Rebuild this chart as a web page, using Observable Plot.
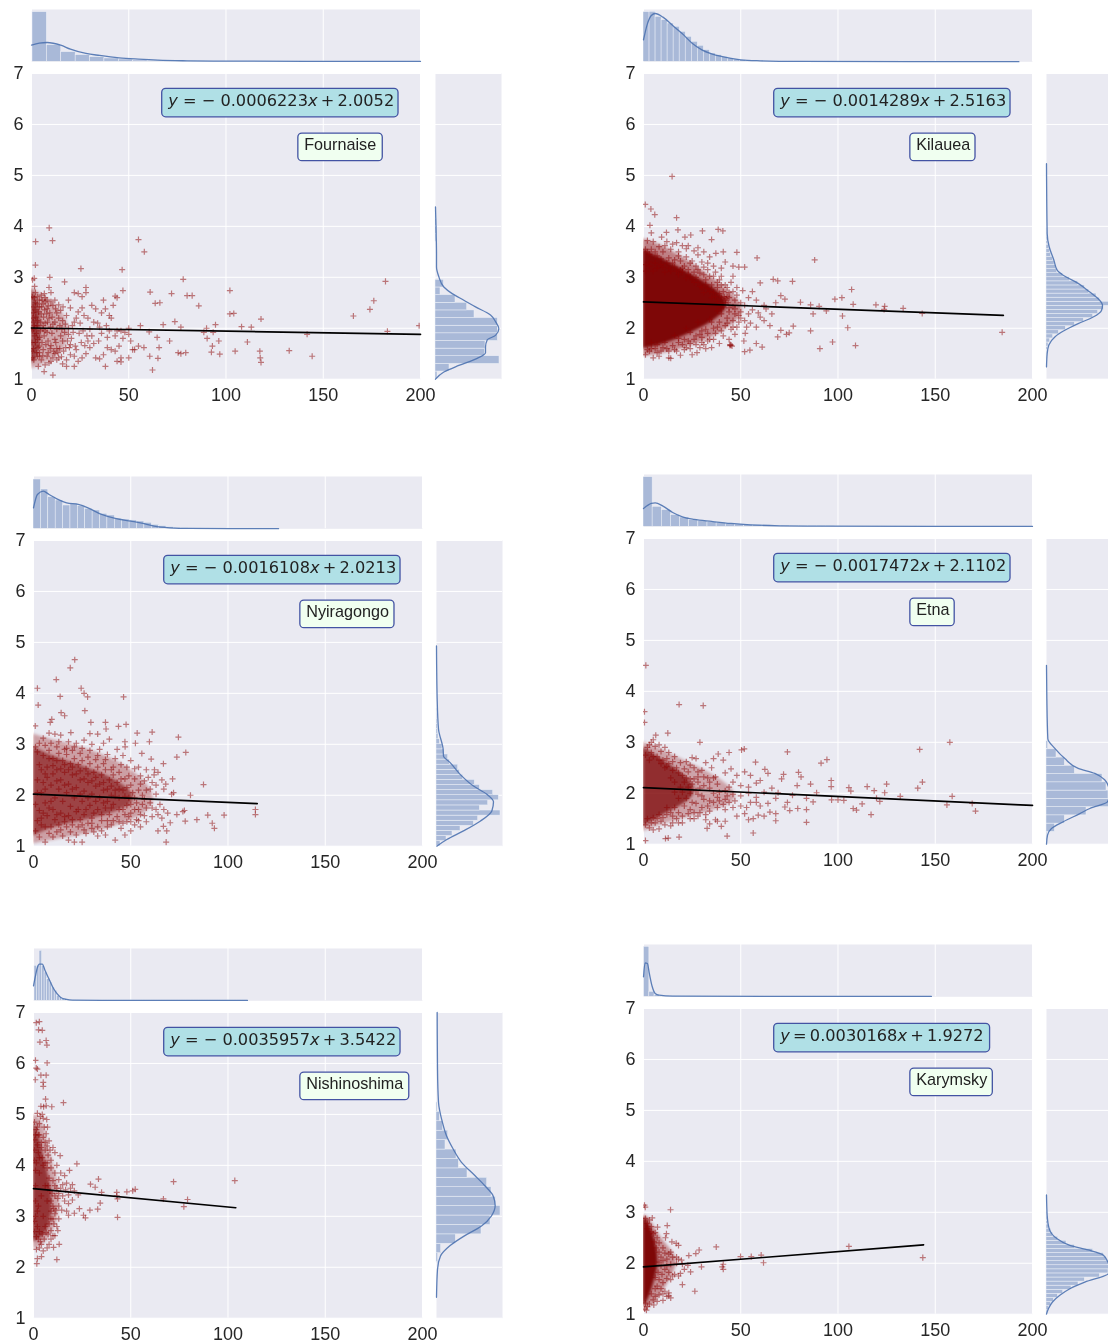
<!DOCTYPE html>
<html><head><meta charset="utf-8">
<script src="https://cdn.jsdelivr.net/npm/d3@7"></script>
<script src="https://cdn.jsdelivr.net/npm/@observablehq/plot@0.6"></script>
<style>
html,body{margin:0;padding:0;background:#fff;overflow:hidden}
#root{position:relative;width:1108px;height:1343px;overflow:hidden;background:#fff;filter:blur(.35px)}
</style></head><body><div id="root"></div>
<script>
const volcanoes=["Fournaise","Kilauea","Nyiragongo","Etna","Nishinoshima","Karymsky"];
const equations=["y\u00A0=\u00A0\u2212\u00A00.0006223x\u2009+\u20092.0052","y\u00A0=\u00A0\u2212\u00A00.0014289x\u2009+\u20092.5163","y\u00A0=\u00A0\u2212\u00A00.0016108x\u2009+\u20092.0213","y\u00A0=\u00A0\u2212\u00A00.0017472x\u2009+\u20092.1102","y\u00A0=\u00A0\u2212\u00A00.0035957x\u2009+\u20093.5422","y\u2009=\u20090.0030168x\u2009+\u20091.9272"];
const fitLines=[[[0,2.0052],[200,1.881]],[[0,2.5163],[185,2.252]],[[0,2.0213],[115,1.836]],[[0,2.1102],[200,1.761]],[[0,3.5422],[104,3.168]],[[0,1.9272],[144,2.362]]];
const eqBoxRight=[188.7,188.7,188.7,188.7,188.7,178.2];
const nameBoxRight=[180.6,170.7,185.6,160,193.2,179.6];
const xTicks=[0,50,100,150,200];
const yTicks=[1,2,3,4,5,6,7];
const coreOpacity=[.6,.95,.58,.72,.68,.95];
const haloOpacity=[.28,.45,.32,.3,.3,.4];

const fournaisePoints=[[9.1,3.97],[10.8,3.72],[2.1,3.7],[55,3.74],[58,3.5],[2,3.24],[25.4,3.17],[46.6,3.15],[1.4,2.98],[9.4,3],[17,2.91],[78,2.96],[182,2.92],[28,2.8],[47,2.74],[61,2.71],[72,2.68],[102,2.74],[80,2.64],[82.6,2.64],[43,2.63],[86,2.44],[63.6,2.49],[66,2.5],[176,2.54],[174,2.37],[165.5,2.24],[102,2.28],[104,2.29],[118,2.18],[73.7,2.13],[67.7,2.07],[56,2.05],[94.6,2.07],[108,2.03],[113,2.02],[76.8,2.02],[90,2],[199.3,2.05],[183,1.94],[141.7,1.88],[93.4,1.92],[88.6,1.92],[90.3,1.8],[96.3,1.75],[111,1.73],[93,1.65],[71,1.75],[92.5,1.53],[96.8,1.49],[104.7,1.55],[117.4,1.55],[132.5,1.56],[117.6,1.42],[118,1.33],[144.3,1.45],[76.8,1.5],[79.3,1.52],[75.4,1.52],[62.2,1.18],[65,1.41],[64.6,1.82],[65.6,1.62],[60.8,1.45],[60.5,1.93],[57.8,1.62],
[.5,2.95],[2,2.7],[3,2.62],[5,2.65],[7,2.6],[9,2.8],[10,2.7],[12,2.55],[2,2.5],[4,2.42],[6,2.48],[8,2.38],[10,2.52],[11,2.45],[13,2.3],[15,2.35],[14,2.2],[16,2.15],[18,2.25],[20,2.4],[22,2.7],[24,2.68],[26,2.62],[28,2.7],[26,2.4],[24,2.32],[23,2.2],[25,2.1],[21,2.05],[19,2],[17,1.92],[15,1.85],[13,1.98],[11,2.08],[9,2.2],[7,2.1],[5,2.28],[3,2.15],[1,2.3],[1.5,2.05],[2.5,1.9],[4.5,1.95],[6.5,1.85],[8.5,1.75],[10.5,1.9],[12.5,1.72],[14.5,1.6],[16.5,1.55],[18.5,1.75],[20.5,1.8],[22.5,1.65],[24.5,1.9],[26.5,1.95],[28.5,1.85],[30,1.98],[32,2.12],[34,2.1],[33,2.38],[31,2.45],[36,2.3],[37,2.55],[38,2.38],[40,2.25],[41,2.2],[42,2.45],[44,2.6],[38.5,2.05],[40,1.95],[36,1.9],[34.5,1.75],[32,1.7],[30,1.62],[28,1.5],[26,1.42],[24,1.35],[22,1.45],[20,1.48],[18,1.38],[16,1.3],[14,1.42],[12,1.5],[10,1.35],[8,1.45],[6,1.58],[4,1.65],[2,1.72],[1,1.6],[3,1.45],[5,1.38],[7,1.28],[3.5,1.25],[6.5,1.15],[11,1.08],[22,1.25],[18,1.25],[38,1.25],[33,1.42],[35,1.4],[37,1.48],[39,1.62],[41,1.58],[43,1.85],[44,1.95],[46,1.95],[48,1.92],[50,1.88],[47,1.8],[45,1.65],[43,1.55],[46,1.42],[44,1.35],[46,1.34],[50,1.42],[52,1.58],[53,1.58],[55,1.65],[51,1.75],[50,2],
[.6,1.42],[1.2,1.38],[2.6,1.52],[3.4,1.62],[1.7,1.85],[.4,1.95],[3.2,1.78],[4.2,1.82],[5.4,1.72],[6,1.98],[7.4,1.68],[8,1.92],[9.6,1.6],[.9,2.12],[2.2,2.22],[3.6,2.32],[4.8,2.12],[6.2,2.22],[7.8,2.28],[8.6,2.44],[.8,2.42],[1.8,2.36],[3,2.48],[5.4,2.55],[6.8,2.36],[10,1.66],[11.4,1.55],[13,1.6],[15.4,1.44],[17.6,1.62],[19.5,1.62],[21.4,1.92],[23,1.58],[25.6,1.72],[27.4,1.66],[29,2.2],[31,1.85],[35,2.02],[39,1.82],[12,2.12],[14.6,2.05],[16.2,2.42],[19,2.55],[9.8,2.02],[7,2.52],[4,2.55],[1.4,2.6],[.3,1.72],[.5,1.55],[.7,2.2],[1.1,1.98],[2.9,2.05],[4.1,1.52],
[4,1.45],[5.8,1.46],[8.6,1.52],[11,1.42],[12,1.78],[13.6,1.52],[6,2.05],[7,1.95],[8.2,2.12],[9.4,2.3],[10.6,2.22],[12.4,2.38],[14,2.46],[15.6,1.98],[17.4,2.08],[19,1.88],[22,2.12],[27,2.25],[29,1.75],[20,1.68],[16,1.75],[13,1.38],[9,1.32],[5.2,2.42],[6.6,2.68],[8,2.55],[1.6,2.82],[.4,2.62]];

const kilaueaPoints=[[14.7,4.98],[.9,4.43],[3.8,4.34],[5.8,4.23],[17,4.17],[3.3,4.02],[17.7,3.93],[38.4,3.94],[40.8,3.91],[30.3,3.91],[11.8,3.88],[4,3.87],[88,3.34],[58.4,3.38],[48,3.49],[41,3.5],[37.2,3.47],[35,3.74],[24.3,3.83],[21.3,3.79],[9.3,3.79],[66.7,2.96],[69,2.93],[76.6,2.92],[107,2.76],[60,2.89],[102,2.6],[98.4,2.57],[70.6,2.64],[72.7,2.57],[80.7,2.51],[85.9,2.46],[90.3,2.43],[107.8,2.47],[119.5,2.46],[124,2.43],[133.5,2.39],[123.7,2.37],[143.3,2.29],[94,2.34],[87.2,2.28],[102.3,2.24],[105,2.01],[85.9,1.95],[184.4,1.92],[97.2,1.73],[109,1.66],[90.7,1.6],[73.5,1.88],[69,1.83],[70.6,1.96],[74.9,1.91],[77,2.04],[52.3,1.9],[51.6,1.75],[54.7,1.57],[52,1.54],[58,1.7],[61,1.63],[45,1.67],[68,2.5],[63,2.38],[66,2.28],[60,2.22],[56,2.36],[58,2.55],[54,2.6],[56,2.72],[51,2.74],[48,2.8],[46,3.02],[52,3.2],[49,3.2],[46,3.22],[42,3.3],[40,3.18],[36,3.22],[34,3.4],[31,3.5],[28,3.44],[26,3.52],[22,3.56],[20,3.62],[18,3.5],[15,3.65],[12,3.7],[8,3.6],[5,3.7],[2,3.72],[1,3.55],[3,3.45],[7,3.42],[10,3.5],[13,3.38],[16,3.34],[19,3.32],[22,3.4],[24,3.28],[27,3.22],[30,3.3],[33,3.15],[36,3.02],[39,2.95],[42,2.85],[45,2.9],[48,2.65],[50,2.5],[52,2.45],[47,2.55],[44,2.6],[41,2.72],[38,2.8],[35,2.85],[32,2.95],[29,3.08],[26,3.1],[23,3.15],[20,3.18],[43,2.2],[46,2.15],[49,2.25],[52,2.15],[55,2.1],[58,2.02],[62,2.15],[65,2.05],[48,2.02],[45,1.98],[42,2.05],[39,2.12],[36,2],[33,1.9],[30,1.95],[27,1.85],[24,1.92],[21,1.78],[18,1.72],[15,1.66],[12,1.6],[9,1.55],[6,1.6],[3,1.55],[1,1.48],[5,1.42],[8,1.45],[13,1.42],[14,1.41],[19,1.47],[21,1.58],[24,1.6],[27,1.68],[27.5,1.52],[30,1.72],[32,1.6],[36,1.78],[39,1.7],[41,1.85],[44,1.78],[47,1.88],[44.5,1.66],[35,1.62],[25,1.48],[17,1.55],[11,1.72],[7,1.68],[4,1.72],[16,1.86],[22,2],[28,2.12],[34,2.18],[40,2.28],[44,2.4],[38,2.52],[42,2.5],[34,2.72],[30,2.8],[26,2.9],[22,2.98],[18,3.05],[14,3.12],[10,3.2],[6,3.28],[3,3.3],[1,3.25],[12,3.28],[16,3.2],[20,3.1],[24,3.02],[28,2.9],[32,2.85],[36,2.7],[40,2.6],[46,2.42],[50,2.32],[54,2.28],[59,2.3],[62,2.45],[49,2.12],[53,2.02],[41,2.42],[43,2.62],[31,3.2],[33,3.28],[25,3.32],[18,3.42],[9,3.36],[6,3.5],[11,3.62],[14,3.55],[17,3.68],[23,3.62],[28,3.58],[2,3.5],[4,3.55],
[42,2.55],[42.5,2.58],[41.5,2.62],[43.5,2.5],[40,2.4],[38,2.34],[44,2.32],[47,2.28],[39,2.68],[37,2.62],[35,2.6],[33,2.78],[31,2.7],[29,2.82],[27,3],[25,2.95],[23,3.05],[21,3.22],[19,3.15],[17,3.12],[15,3.28],[13,3.18],[11,3.1],[9,3.25],[7,3.18],[5,3.12],[3,3.22],[1,3.12],[37,3.1],[38,2.9],[40,3.02],[34,3.02],[31,3.05],[28,3.15],[35,2.12],[38,2.02],[32,1.98],[29,1.88],[26,1.78],[23,1.75],[20,1.68],[16,1.58],[13,1.55],[10,1.62],[7,1.52],[4,1.6],[2,1.58],[18,1.8],[24,1.7],[30,1.82],[34,1.78],[37,1.9],[40,1.95],[43,2.1],[46,2.02],[50,2.2],[47,2.38],[44,2.7],[46,2.72],[43,2.8],[40,2.85],[44.5,1.68],[45.5,1.65],[29,1.62],[31,1.68],[33,1.75],[22,1.62]];

const nyiragongoPoints=[[21.2,4.66],[18.9,4.5],[11.7,4.27],[2,4.1],[24.5,4.1],[26,4],[27.8,3.93],[13.7,3.94],[46.3,3.93],[2.4,3.77],[26.4,3.66],[14.2,3.62],[16,3.56],[9.4,3.49],[8.6,3.43],[37,3.43],[29.5,3.43],[.9,3.36],[43.7,3.35],[47.6,3.39],[37.3,3.3],[19.2,3.23],[29,3.21],[53.3,3.22],[61,3.24],[74.5,3.14],[59.6,3.05],[47,3.05],[47.1,2.95],[52.4,3.02],[78.3,2.84],[73.7,2.75],[55.7,2.82],[60.5,2.71],[66.8,2.62],[87.4,2.21],[71.5,2.32],[62.2,2.5],[80.7,2],[72,2.05],[77.6,1.7],[76.8,1.68],[73.7,1.62],[84,1.52],[89.6,1.61],[98,1.61],[91.9,1.45],[93,1.35],[114.1,1.72],[114.1,1.62],[78,1.49],[70.3,1.46],[66.8,1.39],[68.5,1.3],[64,1.3],[68.2,1.08],
[62,2.4],[64,2.45],[66,2.3],[68,2.22],[67,2.12],[71,2.02],[63,2.02],[60,2.12],[57,2.28],[55,2.38],[52,2.52],[48,2.55],[45,2.6],[42,2.72],[38,2.8],[34,2.9],[30,3],[26,3.08],[22,3.02],[18,3.05],[14,3.18],[11,3.2],[8,3.22],[5,3.12],[3,3.02],[1,2.95],[36,3.02],[33,3.2],[39,3.1],[43,2.9],[46,2.78],[50,2.68],[54,2.55],[58,2.5],[59,2.35],[65,1.82],[67,1.72],[69,1.65],[66,1.55],[63,1.72],[60,1.85],[58,1.75],[55,1.62],[61,1.58],[58,1.48],[55,1.38],[52,1.42],[50,1.3],[47,1.22],[45,1.35],[48,1.48],[42,1.12],[37,1.22],[33,1.2],[30,1.35],[27,1.25],[25,1.08],[21,1.08],[18,1.12],[15,1.2],[12,1.28],[8,1.25],[6,1.08],[3,1.18],[1,1.3],[4,1.42],[9,1.38],[14,1.32],[19,1.28],[23,1.38],[28,1.45],[33,1.38],[38,1.5],[43,1.58],[47,1.62],[52,1.72],[56,2],[54,2.1],[50,2.2],[47,2.32],[44,2.45],[40,2.5],[36,2.62],[32,2.7],[28,2.75],[24,2.82],[20,2.88],[16,2.9],[12,2.95],[8,2.88],[5,2.78],[2,2.85],[10,2.72],[15,2.68],[19,2.62],[23,2.6],[27,2.52],[31,2.45],[35,2.4],[39,2.3],[43,2.25],[46,2.1],[49,1.95],[53,1.85],[56,1.82],[44,1.95],[40,2],[36,2.1],[32,2.18],[28,2.25],[24,2.3],[20,2.4],[16,2.45],[12,2.5],[7,2.55],[3,2.6],[5,2.25],[9,2.2],[13,2.12],[17,2.05],[21,1.95],[25,1.88],[29,1.8],[33,1.72],[37,1.75],[41,1.82],[6,1.85],[10,1.72],[14,1.65],[18,1.6],[22,1.68],[26,1.62],[30,1.55],[3,1.7],[7,1.6],[11,1.52],[16,1.48],[20,1.52],[24,1.52],[35,1.62],[40,1.42],[44,1.48],[49,1.58],[53,1.52],[57,1.6],[61,1.75],[64,1.62],[41,2.4],[37,2.5],[33,2.55],[29,2.62],[25,2.68],[21,2.72],[17,2.8],[13,2.82],[49,2.38],[51,2.05],[58,2.1],[61,2.25],[63,2.2],
[2,2.3],[4,2.05],[7,2.35],[10,2.42],[14,2.3],[18,2.22],[22,2.15],[26,2.08],[30,2.02],[34,1.95],[38,1.88],[42,2.1],[46,1.72],[50,1.65],[54,1.72],[57,1.92],[11,1.95],[15,1.88],[19,1.78],[23,1.72],[27,1.72],[31,1.65],[4,1.55],[8,1.75],[12,1.62],[16,1.58],[20,1.42],[25,1.42],[30,1.45],[35,1.5],[39,1.62],[6,1.38],[10,1.18],[13,1.42],[17,1.38],[22,1.22],[26,1.32],[31,1.28],[35,1.3],[38,1.38],[41,1.5],[46,1.45],[50,1.48],[54,1.5],[2,1.5],[5,1.65],[9,1.88],[1,1.82],[2,2.05],[6,2.12],[12,2.28],[16,2.2],[20,2.12],[24,2.02],[28,1.95],[32,1.88],[36,1.85],[40,1.75],[44,1.72],[48,1.8],[52,1.95],[55,2.22],[52,2.32],[48,2.15],[44,2.12],[40,2.18],[36,2.25],[32,2.35],[28,2.42],[24,2.48],[20,2.55],[16,2.6],[12,2.68],[8,2.72],[4,2.5],[6,2.42],[10,2.58],[14,2.52],[18,2.5],[22,2.42],[26,2.32],[30,2.28],[34,2.22],[38,2.12],[42,1.98],[47,1.98],[50,1.82],[45,2.32],[41,2.55],[37,2.7],[33,2.78],[29,2.88],[25,2.92],[21,2.95],[17,2.92],[13,3.05],[9,3.02],[6,2.98]];

const etnaPoints=[[1.2,4.51],[.5,3.6],[.5,3.39],[18.3,3.74],[30.7,3.72],[157.5,3],[142,2.86],[74,2.81],[94.3,2.66],[91.3,2.59],[29,3],[12.5,3.18],[6.3,3.14],[51.8,2.87],[50.4,2.85],[57.6,2.61],[44,2.8],[38.4,2.77],[79.7,2.41],[81,2.32],[72,2.37],[71,2.28],[62.4,2.47],[64,2.39],[143.4,2.22],[141,2.1],[96.5,2.25],[96.5,2.13],[125,2.18],[115,2.13],[105.6,2.11],[106.6,2.04],[118.6,2.05],[124,2.01],[132,1.94],[158.7,1.94],[156,1.77],[169,1.8],[170.7,1.65],[117,1.58],[112.4,1.79],[107.8,1.7],[109.5,1.67],[121.5,1.84],[119.8,1.9],[96.7,1.87],[100,1.87],[103,1.86],[89,2.01],[85.9,2.18],[79,2.15],[83.8,1.68],[79.3,1.7],[75.2,1.66],[83.8,1.43],[56.4,1.22],[43,1.16],[18.3,1.14],[12.7,1.12],[11.3,1.11],[1,1.07],[32.7,1.31],[68,1.46],[68,1.6],[72.7,1.73],[87.2,1.83],[83.8,1.9],[74,1.82],[76.6,1.96],[69.2,2.01],[65,1.63],[59,1.57],[56.4,1.5],
[5,3.05],[8,2.95],[11,2.9],[13,2.8],[16,2.72],[19,2.6],[22,2.62],[25,2.7],[27,2.68],[32,2.6],[36,2.68],[41,2.65],[35,2.5],[30,2.45],[26,2.5],[23,2.42],[20,2.35],[24,2.28],[28,2.32],[33,2.3],[37,2.32],[42,2.4],[45,2.48],[48,2.35],[52,2.42],[55,2.35],[60,2.25],[58,2.2],[54,2.12],[50,2.15],[46,2.22],[42,2.05],[38,2.18],[34,2.1],[31,2.15],[27,2.05],[24,2],[30,1.95],[34,1.85],[38,1.92],[42,1.88],[46,1.98],[50,1.95],[54,2],[58,1.92],[62,2.02],[66,2.1],[68,1.9],[64,1.8],[60,1.75],[55,1.82],[50,1.75],[46,1.72],[42,1.68],[38,1.72],[34,1.65],[30,1.72],[27,1.8],[24,1.68],[21,1.75],[18,1.62],[15,1.55],[12,1.58],[9,1.45],[6,1.42],[3,1.32],[5,1.28],[8,1.3],[14,1.36],[18,1.42],[20,1.42],[24,1.5],[28,1.55],[32,1.58],[37,1.48],[42,1.45],[48,1.55],[52,1.6],[53,1.72],[54,1.48],[58,1.82],[62,1.55],[40,1.35],[38,1.45],[34,1.4],[26,1.62],[2,2.9],[4,2.8],[7,2.72],[10,2.65],[13,2.58],[15,2.45],[18,2.4],[21,2.22],[23,2.12],[20,2.02],[18,1.9],[16,1.72],[12,1.72],[8,1.58],[5,1.52],[1,1.38],[2,1.5],[3,2.65],[6,2.92],[9,2.58],[11,2.5],[14,2.3],[17,2.5],[26,2.28],[29,2.1],[36,2],[44,2.12],[47,1.85],[1,2.75],[4,3],[3,2.95],
[22,1.9],[25,1.82],[28,1.98],[31,1.88],[33,1.75],[36,1.82],[39,1.85],[41,1.78],[44,1.82],[25,2.18],[28,2.22],[31,2.32],[34,2.22],[36,2.3],[39,2.02],[43,1.95],[20,1.55],[23,1.6],[26,1.5],[29,1.62],[32,1.48],[11,1.38],[15,1.42],[17,1.5],[7,1.5],[4,1.42],[16,2.22],[19,2.12],[22,2.3],[12,2.52],[8,2.65],[5,2.72],[9,2.82],[12,2.68],[15,2.62],[21,2.48],[24,2.55],[28,2.42],[16,2.02],[14,1.62],[10,1.52]];

const nishinoshimaPoints=[[3,6.82],[1.4,6.8],[2.6,6.66],[4.5,6.65],[3.3,6.42],[6.5,6.45],[6.9,6.36],[1,6.06],[7,6.01],[1.4,5.91],[2,5.89],[.9,5.68],[3.8,5.77],[6.5,5.77],[5,5.63],[5,5.55],[6.2,5.3],[15.4,5.23],[3.8,5.16],[6.5,5.17],[9.4,5.15],[5.2,5.15],[103.5,3.7],[72,3.68],[33.4,3.73],[22.3,4.03],[13.7,4.19],[18.5,3.9],[29.3,3.63],[31.7,3.57],[52.3,3.53],[51,3.5],[48,3.48],[42.8,3.47],[42.8,3.4],[43.2,3.34],[35,3.47],[66.8,3.34],[79.2,3.33],[77.3,3.19],[34.3,3.26],[33,3.14],[29,3.12],[23.6,3.15],[21,3.06],[25.7,3.02],[26.7,2.97],[43.2,2.98],[18,3.02],[12,2.15],[13.2,2.45],[10.3,2.39],[4.1,2.21],[2,2.17],[1.7,2.07],
[3.5,4.96],[5,4.92],[6.8,4.9],[7.2,4.75],[.5,4.85],[1.5,4.7],[3,4.6],[5,4.55],[6.5,4.62],[8,4.48],[10,4.35],[11,4.25],[.6,4.5],[2,4.4],[4,4.35],[6,4.3],[7.5,4.2],[9,4.1],[12,4],[14,3.85],[16,3.8],[13,3.72],[15,3.62],[17,3.65],[19,3.55],[21,3.5],[23,3.42],[18,3.42],[15,3.4],[16,3.3],[18,3.25],[20,3.32],[13,3.2],[14.5,3.12],[17,3.1],[11,3.05],[13,2.95],[10.5,2.85],[12.5,2.72],[11,2.62],[9,2.55],[8,2.45],[7,2.38],[5,2.32],[3,2.38],[1.5,2.35],[3.5,2.5],[1.5,2.6],[5.5,2.55],[2,2.8],[1,3],[3,2.7],[6,2.8],[9,2.72],[10,3.2],[11,3.4],[12,3.55],[10,3.7],[11,3.85],[9,3.95],[7,4.05],[.5,4.1],[1,3.9],[1,3.6],[1,3.3],[2,3.1],[9,3.3],[10.5,3.15],[8.5,3.5],[8,3.75],[6,4.05],[2.5,4.25],[1.5,4.05],[4.5,4.15],[8.5,4.3],[4,4.45],[2.5,4.6],[5.5,4.75],[3,4.82],[7,3.95],[13,3.45],[16.5,3.52],[20,3.62],[14,3.55],[9,2.95],[7.5,2.65],[4.5,2.65],[10,2.62],[12,2.8],
[2,5.02],[4.5,5],[1,4.6],[6,4.45],[7,4.38],[3,4.15],[5,4],[3,3.85],[6,3.6],[4,3.4],[7,3.3],[2.5,3.2],[5,3],[8,2.85],[6.5,2.68],[2.5,2.55],[4,2.45],[9.5,3.45],[11,3.6],[12.5,3.35],[7.5,3.6],[11.5,3.12],[9,3.1],[10,2.95],[.5,2.9],[.5,2.7],[.5,4.3],[2,4.75]];

const karymskyPoints=[[.5,3.14],[.9,3.1],[13.9,3.05],[4.5,2.89],[12.2,2.74],[7.2,2.71],[11.8,2.58],[11.3,2.5],[14.6,2.42],[16.8,2.39],[18,2.35],[28.6,2.26],[37.4,2.32],[26.9,2.19],[23.3,2.15],[105.6,2.33],[143.6,2.11],[49.9,2.13],[55.4,2.13],[60.5,2.16],[61.7,2.01],[41,1.98],[41,1.88],[29.8,1.93],[22.8,1.96],[24.2,1.83],[19,1.8],[20,1.58],[26.4,1.45],[13,1.36],[10,1.27],[5.3,1.18],[1.5,1.08],[40.5,1.93],
[3,2.85],[1,2.88],[2,2.78],[4,2.72],[6,2.6],[7,2.5],[8,2.4],[10,2.3],[11,2.2],[13,2.18],[14,2.22],[15,2.12],[17,2.12],[18,2.08],[19.5,2.06],[17,2],[20,1.98],[14,1.98],[12,2.08],[10,2.05],[9,2.12],[8,2.22],[6.5,2.3],[9,1.95],[11,1.88],[13,1.82],[15,1.75],[14,1.68],[16,1.78],[18,1.75],[21,1.88],[12,1.7],[10,1.62],[8,1.68],[7,1.55],[9,1.5],[11,1.45],[13,1.42],[12,1.35],[14,1.32],[10,1.4],[8,1.38],[6,1.35],[7,1.25],[5,1.28],[4,1.4],[6,1.5],[3,1.2],[2,1.15],[.6,1.1],[1,1.22],[5,2.58],[4,2.62],[2,2.68],[7.5,1.82],[9.5,1.78],[5.5,2.42],[12,1.95],[6,1.72],[8,2.02]];

const fournaiseCore=[[0,1.3],[3,1.4],[4.5,1.7],[5,2],[4.5,2.3],[3.5,2.5],[1,2.7],[0,2.8]];
const kilaueaCore=[[0,1.6],[8,1.65],[18,1.8],[30,2],[40,2.25],[44,2.45],[40,2.7],[30,2.95],[18,3.2],[8,3.4],[0,3.55]];
const nyiragongoCore=[[0,1.2],[10,1.38],[25,1.5],[42,1.65],[55,1.9],[46,2.25],[28,2.55],[10,2.75],[0,2.95]];
const etnaCore=[[0,1.35],[6,1.5],[14,1.65],[24,1.85],[28,2.1],[20,2.4],[10,2.65],[0,2.9]];
const nishinoshimaCore=[[0,2.5],[6,2.6],[9,2.9],[10,3.3],[8,3.8],[5,4.2],[3,4.6],[0,4.85]];
const karymskyCore=[[0,1.15],[3,1.3],[6,1.7],[8,2],[7,2.3],[5,2.6],[2,2.85],[0,2.9]];
const fournaiseHalo=[[0,1.2],[10,1.35],[18,1.6],[20,2],[16,2.35],[8,2.6],[0,2.8]];
const kilaueaHalo=[[0,1.45],[10,1.5],[25,1.65],[40,1.9],[50,2.2],[52,2.45],[42,2.8],[30,3.15],[18,3.45],[8,3.65],[0,3.75]];
const nyiragongoHalo=[[0,1.05],[15,1.15],[35,1.3],[55,1.55],[65,1.9],[55,2.4],[40,2.75],[20,3],[8,3.1],[0,3.2]];
const etnaHalo=[[0,1.25],[10,1.4],[25,1.55],[45,1.75],[50,2],[35,2.4],[20,2.65],[8,2.9],[0,3]];
const nishinoshimaHalo=[[0,2.35],[6,2.45],[12,2.8],[14,3.3],[12,3.8],[8,4.3],[5,4.9],[0,5]];
const karymskyHalo=[[0,1.08],[6,1.2],[11,1.5],[16,1.85],[18,2.1],[12,2.35],[7,2.6],[3,2.9],[0,2.95]];

const topBarStart=[.5,0,0,0,.5,.3];
const topBarStep=[7.4,3.1,3.8,4.7,1.3,2.7];
const topBars=[
[149,50,29,20,14,10,7,4,3,2,2,1.5,1,1,1,1,1,1,1,1,1,1,1,1,1,1],
[149,150,135,125,115,105,90,75,60,48,35,25,20,14,10,7,5,3,2,2,1,1,1,1,1,1,1,1,1,1,1,1,1,1,1,1,1,1,1,1,1,1,1,1,1,1,1,1,1,1,1,1,1,1,1,1,1,1,1,1,1,1],
[148,118,95,85,70,75,68,60,55,45,40,30,28,25,22,18,12,8,5,3,2,1,1,1,1,1,1,1,1,1,1,1,1],
[149,60,50,35,28,20,17,14,12,9,7,6,5,4,3,3,2,2,2,2,2,1,1,1,1,1,1,1,1,1,1,1,1,1,1,1,1,1,1,1,1,1],
[105,105,150,105,85,65,55,40,30,15,10,6,3,2,1,1,1,1,1,1,1,1,1,1,1,1,1,1,1,1,1,1,1,1,1,1,1,1,1,1,1,1,1,1,1,1,1,1,1,1,1,1,1,1,1,1,1,1,1,1,1,1,1,1,1,1,1,1,1,1,1,1,1,1,1,1,1,1,1,1,1,1,1,1],
[150,15,5,2,2,2,1.5,1.5,1.5,1.5,1.5,1,1,1,1,1,1,1,1,1,1,1,1,1,1,1,1,1,1,1,1,1,1,1,1,1,1,1,1,1,1,1,1,1,1,1,1,1,1,1,1,1,1,1,1]];
const topCurves=[
[[0,50],[4,56],[8,58],[15,50],[20,38],[28,25],[35,19],[45,12],[55,8],[65,5],[80,3],[100,2],[200,1]],
[[0,66],[2,114],[4,139],[6,145],[10,134],[15,109],[20,84],[25,56],[30,36],[35,24],[40,16],[50,6],[60,3],[80,1],[193,.5]],
[[0,63],[2,103],[5,113],[8,103],[12,90],[17,78],[23,73],[28,63],[35,43],[42,31],[50,23],[55,18],[62,8],[70,3],[80,1],[126,.5]],
[[0,55],[4,70],[6,72],[10,62],[15,43],[20,30],[26,22],[35,16],[45,10],[55,6],[70,3],[90,2],[200,1]],
[[0,45],[1,75],[2,100],[3,110],[4.5,110],[6,90],[8,65],[10,40],[12,22],[14,10],[17,4],[20,2],[40,1],[110,1]],
[[0,60],[.8,102],[2,100],[3,70],[4.5,30],[6,10],[8,5],[15,2],[148,1]]];

const rightBarStart=[1,1.4,1,1.08,2.09,1];
const rightBarStep=[.15,.08,.1,.162,.185,.08];
const rightBars=[
[6,42,192,148,150,187,187,187,117,95,60,15,25,0,0,0,0,0,3,5,4,3],
[1,2,4,6,11,20,37,58,85,112,140,155,172,198,160,150,128,115,95,70,50,32,28,24,20,14,11,8,5,3,2,1],
[12,30,48,72,112,125,192,130,155,187,170,130,115,80,70,65,40,35,22,18,10,6,5,4,3,2,1],
[2,25,55,120,190,186,180,168,85,55,30,5],
[5,14,58,135,162,192,178,165,152,93,67,60,27,35,20,10,3],
[3,8,14,22,34,50,75,96,115,160,186,190,186,180,172,140,85,60,35,20,14,8,5,3,2]];
const rightCurves=[
[[0,1],[25,1.14],[70,1.27],[125,1.41],[150,1.52],[150,1.63],[155,1.77],[180,1.86],[190,1.99],[180,2.13],[165,2.26],[120,2.42],[85,2.55],[50,2.68],[25,2.81],[10,3.01],[3,3.2],[3,3.47],[2,3.86],[0,4.38]],
[[0,1.24],[2,1.5],[7,1.67],[25,1.83],[55,1.96],[95,2.09],[140,2.22],[165,2.35],[168,2.45],[155,2.58],[130,2.71],[95,2.88],[50,3.04],[32,3.14],[22,3.34],[8,3.6],[2,3.86],[0,5.23]],
[[1,1],[31,1.13],[81,1.3],[131,1.49],[166,1.69],[171,1.87],[151,2.02],[111,2.18],[71,2.41],[41,2.64],[21,2.77],[20,2.9],[6,3.3],[2,3.89],[0,4.93]],
[[0,1],[3,1.18],[15,1.31],[50,1.44],[100,1.6],[130,1.7],[183,1.83],[190,1.99],[186,2.13],[175,2.26],[145,2.39],[95,2.49],[55,2.68],[25,2.88],[4,3.07],[1,3.86],[0,4.51]],
[[0,1.41],[3,1.96],[12,2.22],[40,2.42],[85,2.62],[135,2.81],[165,3.01],[176,3.21],[170,3.4],[145,3.6],[115,3.8],[75,4.06],[50,4.32],[30,4.58],[18,4.84],[6,5.24],[3,5.89],[2,7]],
[[0,1],[6,1.11],[18,1.24],[40,1.37],[70,1.5],[115,1.63],[186,1.8],[190,1.9],[186,1.99],[170,2.16],[125,2.26],[70,2.35],[30,2.49],[8,2.68],[2,2.94],[0,3.34]]];

// ---- layout (page pixels) ----
const panelLeft=[31.2,643.2,32.8,643.2,32.8,642.5];
const sideLeft=[434.5,1046.2,435.8,1046.2,435.8,1045.5];
const mainTop=[72.8,72.8,539.5,537.8,1011.5,1007.8];
const topTop=[8.5,8.5,475.5,473.5,947.5,943.5];
const panelW=389,mainH=305.7,topH=52.3,sideW=66;
const mL=34,mR=24,mT=10,mB=30;
const bg="#EAEAF2",barFill="#A9B9D8",kde="#4C72B0",red="#8B0000",edge="#4353A3";
const root=document.getElementById("root");
const place=(l,t)=>({position:"absolute",left:l+"px",top:t+"px",maxWidth:"none",overflow:"visible",background:"transparent",fontFamily:"'Liberation Sans',Arial,sans-serif"});
const pts=[fournaisePoints,kilaueaPoints,nyiragongoPoints,etnaPoints,nishinoshimaPoints,karymskyPoints];
const cores=[fournaiseCore,kilaueaCore,nyiragongoCore,etnaCore,nishinoshimaCore,karymskyCore];
const halos=[fournaiseHalo,kilaueaHalo,nyiragongoHalo,etnaHalo,nishinoshimaHalo,karymskyHalo];

volcanoes.forEach((name,i)=>{
  const main=Plot.plot({
    width:panelW+mL+mR,height:mainH+mT+mB,marginLeft:mL,marginRight:mR,marginTop:mT,marginBottom:mB,
    style:place(panelLeft[i]-mL,mainTop[i]-mT),
    x:{domain:[0,200],axis:null},y:{domain:[1,7],axis:null},
    marks:[
      Plot.frame({fill:bg,stroke:null}),
      Plot.ruleX(xTicks,{stroke:"#fff",strokeWidth:1}),
      Plot.ruleY(yTicks,{stroke:"#fff",strokeWidth:1}),
      Plot.axisX({ticks:xTicks,tickSize:0,tickPadding:9,fontSize:18,label:null,anchor:"bottom",tickFormat:d=>d,color:"#262626"}),
      Plot.axisY({ticks:yTicks,tickSize:0,tickPadding:8,fontSize:18,label:null,anchor:"left",tickFormat:d=>d,color:"#262626"}),
      Plot.areaX(halos[i],{x:d=>d[0],y:d=>d[1],curve:"basis",fill:"#8B0000",fillOpacity:haloOpacity[i],clip:true}),
      Plot.areaX(cores[i],{x:d=>d[0],y:d=>d[1],curve:"basis",fill:"#7A0000",fillOpacity:coreOpacity[i],clip:true}),
      Plot.dot(pts[i],{x:d=>d[0],y:d=>d[1],symbol:"plus",r:2.1,stroke:red,strokeOpacity:.5,strokeWidth:1.2,clip:true}),
      Plot.line(fitLines[i],{x:d=>d[0],y:d=>d[1],stroke:"#000",strokeWidth:1.7}),
      Plot.rect([{a:67.2,b:eqBoxRight[i],c:6.14,d:6.7}],{x1:"a",x2:"b",y1:"c",y2:"d",fill:"#B0E0E6",stroke:edge,strokeWidth:1.3,rx:4}),
      Plot.rect([{a:137.2,b:nameBoxRight[i],c:5.28,d:5.82}],{x1:"a",x2:"b",y1:"c",y2:"d",fill:"#F0FFF0",stroke:edge,strokeWidth:1.3,rx:4}),
      Plot.text([equations[i]],{x:()=>70.3,y:()=>6.46,text:d=>d,textAnchor:"start",fontSize:16.2,fill:"#222",fontFamily:"'DejaVu Sans'",className:"eq"}),
      Plot.text([name],{x:()=>140.2,y:()=>5.6,text:d=>d,textAnchor:"start",fontSize:16.2,fill:"#222"})
    ]});
  root.appendChild(main);
  d3.select(main).selectAll('g[aria-label="area"]').style("filter","blur(1.5px)");
  d3.select(main).selectAll(".eq text").each(function(){
    const s=this.textContent;this.textContent="";
    const t=d3.select(this);
    s.split(/([xy])/).forEach(p=>{if(p) t.append("tspan").style("font-style",/^[xy]$/.test(p)?"italic":"normal").text(p);});
  });
  const bars=topBars[i].map((h,k)=>({a:topBarStart[i]+k*topBarStep[i],b:topBarStart[i]+(k+1)*topBarStep[i],h}));
  root.appendChild(Plot.plot({
    width:panelW,height:topH,margin:0,style:place(panelLeft[i],topTop[i]),
    x:{domain:[0,200],axis:null},y:{domain:[0,157],axis:null},
    marks:[
      Plot.frame({fill:bg,stroke:null}),
      Plot.ruleX(xTicks,{stroke:"#fff",strokeWidth:1}),
      Plot.rect(bars,{x1:"a",x2:"b",y1:()=>0,y2:"h",fill:barFill,stroke:"#EEF1F8",strokeWidth:.5,inset:0,clip:true}),
      Plot.line(topCurves[i],{x:d=>d[0],y:d=>d[1],stroke:kde,strokeWidth:1.3,strokeOpacity:.9,curve:"monotone-x"})
    ]}));
  const rb=rightBars[i].map((w,k)=>({a:rightBarStart[i]+k*rightBarStep[i],b:rightBarStart[i]+(k+1)*rightBarStep[i],w}));
  root.appendChild(Plot.plot({
    width:sideW,height:mainH+mT,marginLeft:0,marginRight:0,marginTop:mT,marginBottom:0,style:place(sideLeft[i],mainTop[i]-mT),
    x:{domain:[0,198],axis:null},y:{domain:[1,7],axis:null},
    marks:[
      Plot.frame({fill:bg,stroke:null}),
      Plot.ruleY(yTicks,{stroke:"#fff",strokeWidth:1}),
      Plot.rect(rb,{y1:"a",y2:"b",x1:()=>0,x2:"w",fill:barFill,stroke:"#EEF1F8",strokeWidth:.5,inset:0}),
      Plot.line(rightCurves[i],{x:d=>d[0],y:d=>d[1],stroke:kde,strokeWidth:1.3,strokeOpacity:.9,curve:"monotone-y"})
    ]}));
});
</script></body></html>
